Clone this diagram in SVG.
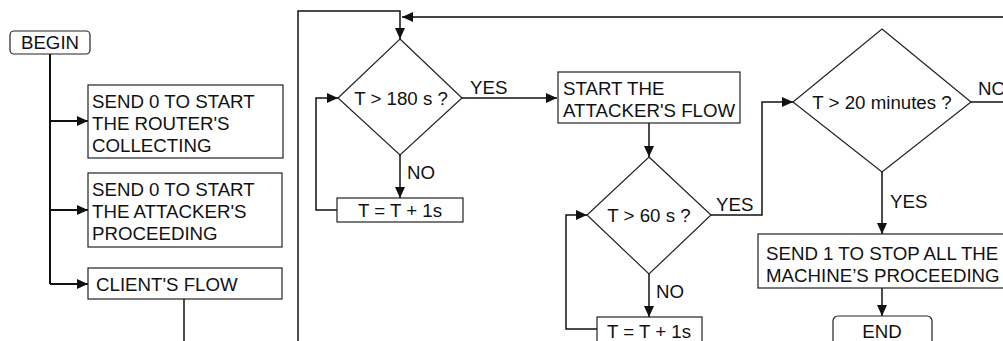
<svg xmlns="http://www.w3.org/2000/svg" width="1003" height="341" viewBox="0 0 1003 341">
<style>
.box{fill:#fff;stroke:#222;stroke-width:1.2}
.t{font-family:"Liberation Sans",Arial,sans-serif;font-size:18.7px;fill:#111}
.c{text-anchor:middle}
.ln{fill:none;stroke:#111;stroke-width:1.5}
.lnb{fill:none;stroke:#111;stroke-width:2}
.top{fill:none;stroke:#444;stroke-width:2}
</style>
<defs>
<marker id="arr" markerUnits="userSpaceOnUse" markerWidth="12" markerHeight="10" refX="11" refY="5" orient="auto">
<path d="M0,0 L11,5 L0,10 z" fill="#111"/>
</marker>
</defs>
<g id="connectors">
<path class="lnb" d="M50,54 L50,284"/>
<path class="lnb" d="M50,121 L88,121" marker-end="url(#arr)"/>
<path class="lnb" d="M50,210 L88,210" marker-end="url(#arr)"/>
<path class="lnb" d="M50,284 L88,284" marker-end="url(#arr)"/>
<path class="ln" d="M184,299 L184,341"/>
<path class="ln" d="M298,341 L298,11 L400,11 L400,39" marker-end="url(#arr)"/>
<path class="top" d="M1003,17 L402,17" marker-end="url(#arr)"/>
<path class="ln" d="M462,98 L557,98" marker-end="url(#arr)"/>
<path class="ln" d="M400,155 L400,198" marker-end="url(#arr)"/>
<path class="ln" d="M337,210 L316,210 L316,98 L338,98" marker-end="url(#arr)"/>
<path class="ln" d="M649,123 L649,157" marker-end="url(#arr)"/>
<path class="ln" d="M649,274 L649,317" marker-end="url(#arr)"/>
<path class="ln" d="M597,329 L566,329 L566,215 L587,215" marker-end="url(#arr)"/>
<path class="ln" d="M711,215 L762,215 L762,102 L793,102" marker-end="url(#arr)"/>
<path class="ln" d="M971,102 L1003,102"/>
<path class="ln" d="M882,172 L882,234" marker-end="url(#arr)"/>
<path class="ln" d="M882,288 L882,316" marker-end="url(#arr)"/>
<text class="t" x="470" y="94">YES</text>
<text class="t" x="407" y="179">NO</text>
<text class="t" x="716" y="211">YES</text>
<text class="t" x="656" y="298">NO</text>
<text class="t" x="978" y="95">NO</text>
<text class="t" x="890" y="208">YES</text>
</g>
<g id="begin">
<rect class="box" x="10" y="31" width="80" height="23" rx="4"/>
<text class="t c" x="50" y="49">BEGIN</text>
</g>
<g id="router">
<rect class="box" x="88" y="85" width="195" height="73"/>
<text class="t" x="92" y="108">SEND 0 TO START</text>
<text class="t" x="92" y="130">THE ROUTER'S</text>
<text class="t" x="92" y="152">COLLECTING</text>
</g>
<g id="attacker">
<rect class="box" x="88" y="173" width="194" height="74"/>
<text class="t" x="92" y="196">SEND 0 TO START</text>
<text class="t" x="92" y="218">THE ATTACKER'S</text>
<text class="t" x="92" y="240">PROCEEDING</text>
</g>
<g id="client">
<rect class="box" x="88" y="268" width="194" height="31"/>
<text class="t" x="96" y="291">CLIENT'S FLOW</text>
</g>
<g id="d180">
<polygon class="box" points="400,39 462,98 400,155 338,98"/>
<text class="t c" x="401" y="105">T &gt; 180 s ?</text>
</g>
<g id="inc1">
<rect class="box" x="337" y="198" width="126" height="24"/>
<text class="t c" x="400" y="217">T = T + 1s</text>
</g>
<g id="startatk">
<rect class="box" x="558" y="72" width="182" height="51"/>
<text class="t" x="563" y="95">START THE</text>
<text class="t" x="563" y="117">ATTACKER'S FLOW</text>
</g>
<g id="d60">
<polygon class="box" points="649,157 711,215 649,274 587,215"/>
<text class="t c" x="649" y="222">T &gt; 60 s ?</text>
</g>
<g id="inc2">
<rect class="box" x="597" y="317" width="105" height="30"/>
<text class="t c" x="649" y="338">T = T + 1s</text>
</g>
<g id="d20">
<polygon class="box" points="882,29 971,102 882,172 793,102"/>
<text class="t c" x="882" y="109">T &gt; 20 minutes ?</text>
</g>
<g id="stop">
<rect class="box" x="758" y="234" width="250" height="54"/>
<text class="t" x="766" y="260">SEND 1 TO STOP ALL THE</text>
<text class="t" x="766" y="282">MACHINE’S PROCEEDING</text>
</g>
<g id="end">
<rect class="box" x="833" y="316" width="99" height="34" rx="5"/>
<text class="t c" x="882" y="338">END</text>
</g>
</svg>
